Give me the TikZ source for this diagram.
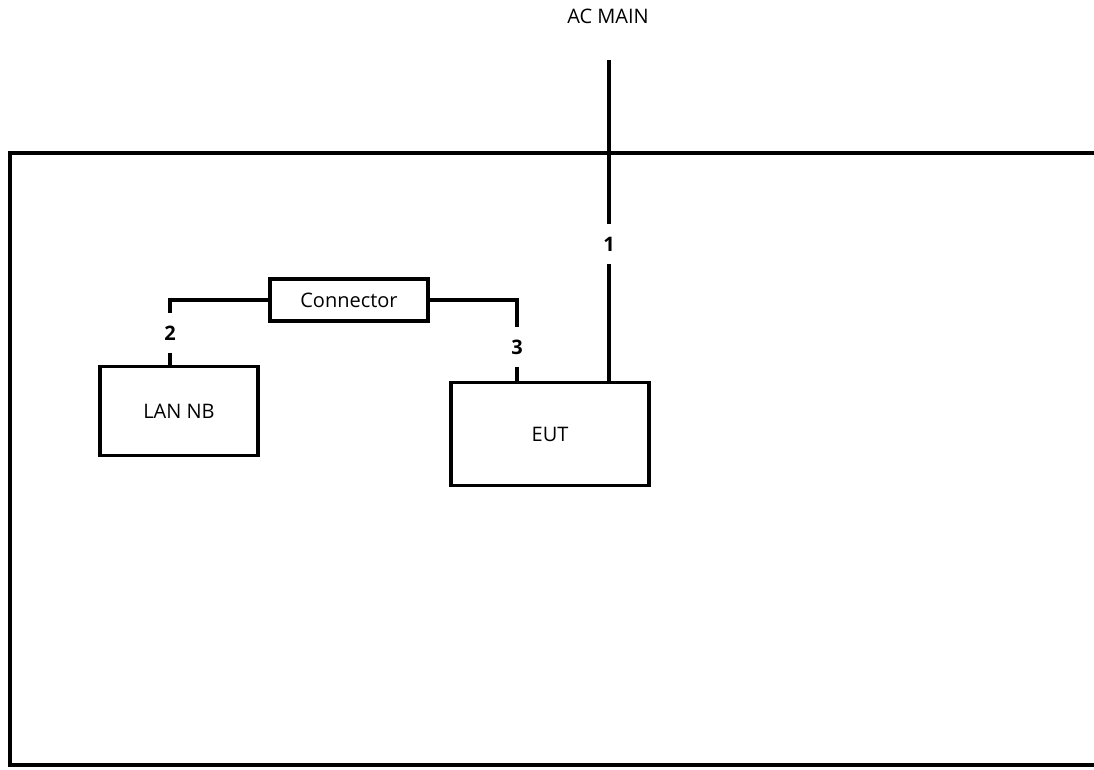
\documentclass[tikz,border=0pt]{standalone}
\usepackage{fontspec}
\setmainfont{Open Sans}
\usetikzlibrary{positioning}

\begin{document}
\begin{tikzpicture}[x=0.75pt, y=-0.75pt, line width=2.6pt,
    box/.style={draw, line width=2.6pt, inner sep=0pt, font=\fontsize{15}{18}\selectfont},
    num/.style={inner sep=0pt, minimum height=27pt, font=\fontsize{15}{18}\selectfont\bfseries},
    lbl/.style={inner sep=0pt, font=\fontsize{15}{18}\selectfont}]
        \useasboundingbox (0,0) rectangle (1094,769);

        % Khung bao ngoài (hở bên phải)
        \draw (1100,153) -- (10,153) -- (10,765) -- (1100,765);

        % Các khối
        \node[box, minimum width=118.5pt, minimum height=31.5pt] (con) at (349,300) {Connector};
        \node[box, minimum width=118.5pt, minimum height=66.75pt] (lan) at (179,411) {LAN NB};
        \node[box, minimum width=148.5pt, minimum height=77.25pt] (eut) at (550,434) {EUT};

        % Nguồn AC
        \node[lbl] (acmain) at (608,16) {AC MAIN};
        \coordinate (acm) at (609,60);

        % Số hiệu cáp
        \node[num] (n1) at (609,244) {1};
        \node[num] (n2) at (170,333) {2};
        \node[num] (n3) at (517,347) {3};

        % Các đường cáp
        \draw (acm) -- (n1);
        \draw (n1) -- (n1 |- eut.north);
        \draw (con.west) -| (n2);
        \draw (n2) -- (n2 |- lan.north);
        \draw (con.east) -| (n3);
        \draw (n3) -- (n3 |- eut.north);
    \end{tikzpicture}
\end{document}
